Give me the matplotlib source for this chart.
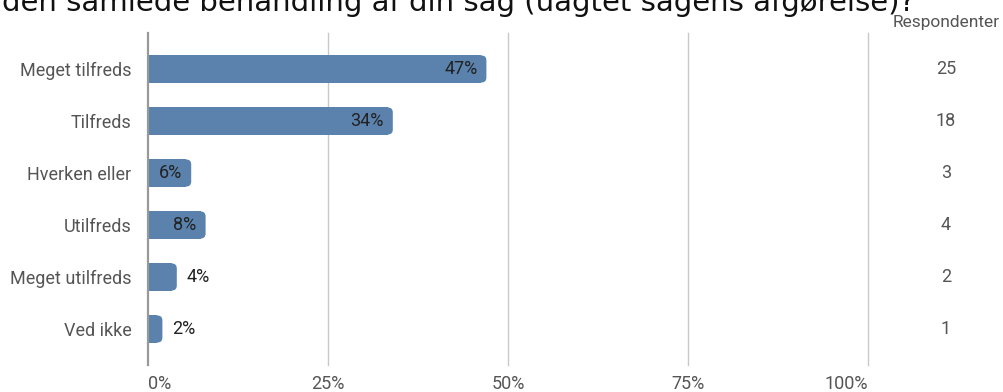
import matplotlib
matplotlib.use("Agg")
import matplotlib.pyplot as plt
from matplotlib.patches import FancyBboxPatch, Rectangle
from matplotlib.transforms import blended_transform_factory, ScaledTranslation

# Survey answers
categories = ["Meget tilfreds", "Tilfreds", "Hverken eller", "Utilfreds",
              "Meget utilfreds", "Ved ikke"]
percent = [47, 34, 6, 8, 4, 2]
respondents = [25, 18, 3, 4, 2, 1]
x_ticks = [0, 25, 50, 75, 100]
title = "den samlede behandling af din sag (uagtet sagens afgørelse)?"

W, H = 1004, 392
BAR_COLOR = "#5a82ad"
GRID_COLOR = "#c9c9c9"
LABEL_COLOR = "#555555"
VALUE_COLOR = "#222222"
FONT = "Roboto"
FS = 13

fig = plt.figure(figsize=(W / 100, H / 100), dpi=100)
ax_left, ax_right, ax_top, ax_bottom = 148, 868, 33, 365
ax = fig.add_axes([ax_left / W, 1 - ax_bottom / H,
                   (ax_right - ax_left) / W, (ax_bottom - ax_top) / H])

n = len(categories)
ax.set_xlim(0, 100)
ax.set_ylim(n - 1 + 0.692, -0.692)

# pixel scale of the data units, for rounding the bar ends
px_x = (ax_right - ax_left) / 100.0
px_y = (ax_bottom - ax_top) / (n - 1 + 2 * 0.692)

bar_h = 0.52
radius_px = 5.0
rx = radius_px / px_x
bars = ax.barh(range(n), percent, height=bar_h, color="none")
for b, v in zip(bars, percent):
    x0, y0, w, h = b.get_x(), b.get_y(), b.get_width(), b.get_height()
    r = min(rx, w / 2)
    ax.add_patch(FancyBboxPatch((x0, y0), w, h,
                                boxstyle=f"round,pad=0,rounding_size={r}",
                                mutation_aspect=px_x / px_y,
                                facecolor=BAR_COLOR, edgecolor="none", zorder=3))
    ax.add_patch(Rectangle((x0, y0), max(w - r, 0), h,
                           facecolor=BAR_COLOR, edgecolor="none", zorder=3))
    if v >= 5:
        ax.text(v - 9 / px_x, b.get_y() + h / 2, f"{v}%", ha="right",
                va="center", fontsize=FS, color=VALUE_COLOR, family=FONT,
                zorder=4)
    else:
        ax.text(v + 10 / px_x, b.get_y() + h / 2, f"{v}%", ha="left",
                va="center", fontsize=FS, color=VALUE_COLOR, family=FONT,
                zorder=4)

# vertical grid
for t in x_ticks:
    ax.axvline(t, color="#999999" if t == 0 else GRID_COLOR,
               lw=1.6 if t == 0 else 1.0, zorder=1 if t else 4,
               clip_on=False)

ax.set_xticks(x_ticks)
ax.set_xticklabels([f"{t}%" for t in x_ticks], family=FONT, fontsize=FS,
                   color=LABEL_COLOR)
xlabels = ax.get_xticklabels()
# keep the edge labels inside the plot width
xlabels[0].set_horizontalalignment("left")
xlabels[0].set_transform(xlabels[0].get_transform()
                         + ScaledTranslation(-2 / 100, 0, fig.dpi_scale_trans))
xlabels[-1].set_horizontalalignment("right")
xlabels[-1].set_transform(xlabels[-1].get_transform()
                          + ScaledTranslation(4 / 100, 0, fig.dpi_scale_trans))

ax.set_yticks(range(n))
ax.set_yticklabels(categories, family=FONT, fontsize=FS, color=LABEL_COLOR)
ax.tick_params(axis="both", length=0)
ax.tick_params(axis="y", pad=12)
ax.tick_params(axis="x", pad=7)
for s in ax.spines.values():
    s.set_visible(False)

# respondent counts column
col_tr = blended_transform_factory(fig.transFigure, ax.transData)
for i, c in enumerate(respondents):
    ax.text(946 / W, i, str(c), transform=col_tr, ha="center", va="center",
            fontsize=FS, color=LABEL_COLOR, family=FONT)
fig.text(1000 / W, 1 - 27 / H, "Respondenter", ha="right", va="baseline",
         fontsize=12.5, color=LABEL_COLOR, family=FONT)

fig.text(2 / W, 1 - 11 / H, title, ha="left", va="baseline",
         fontsize=21, color="#111111", family="DejaVu Sans")

fig.savefig("out.png", dpi=100)
